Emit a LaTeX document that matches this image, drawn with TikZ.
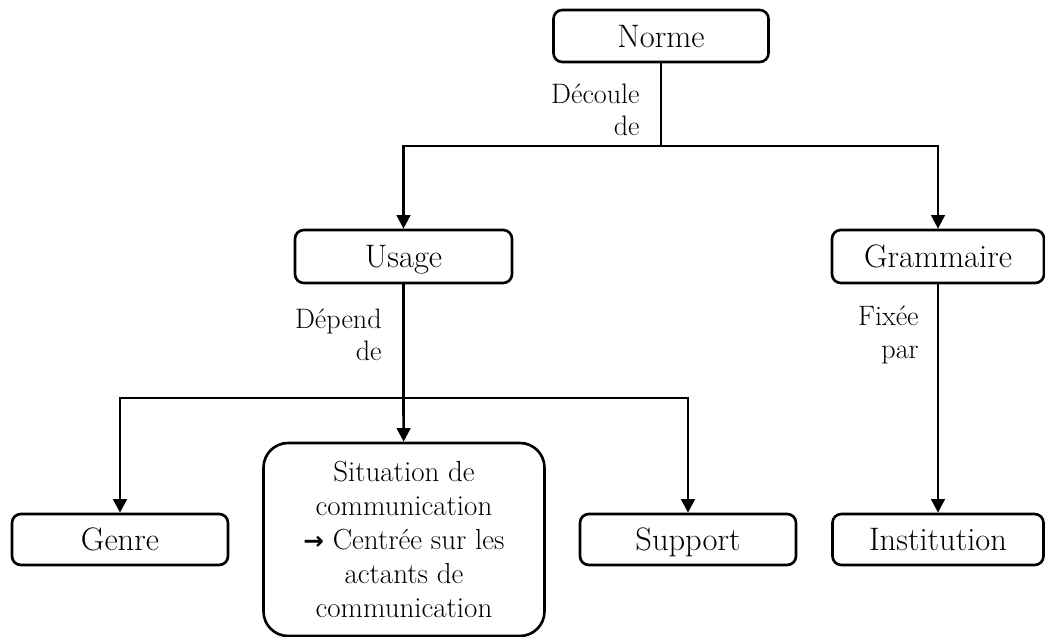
\documentclass[tikz,border=0pt]{standalone}
\usepackage{amsmath,amssymb}
\usepackage{xcolor}
\usepackage{fontspec}
\newfontfamily\symbolfont{DejaVu Sans}
\usetikzlibrary{arrows.meta,positioning,calc}
\definecolor{arrow}{RGB}{0,0,0}

\begin{document}
\begin{tikzpicture}[
  % Box and connector styles
  block/.style={
    draw=black,
    rounded corners=5pt,
    minimum width=4.3cm,
    minimum height=1.04cm,
    align=center,
    line width=1.5pt,
    font=\fontsize{18.5}{22}\selectfont
  },
  single/.style={
    text height=16pt,
    text depth=3.4pt
  },
  arr/.style={
    -{Triangle[width=0.27cm,length=0.27cm]},
    color=arrow,
    line width=1.5pt
  },
  link/.style={
    color=arrow,
    line width=1.5pt
  },
  annotation/.style={
    font=\fontsize{16}{18.5}\selectfont,
    align=right,
    inner sep=0pt,
    anchor=east
  }
]

% Frame
\useasboundingbox (0,0) rectangle (20.9,-12.74);

% Top
\node[block, single] (norme) at (13.22,-0.72) {Norme};

% Second level
\node[block, single, minimum width=4.34cm, minimum height=1.06cm] (usage) at (8.07,-5.13) {Usage};
\node[block, single, minimum width=4.24cm, minimum height=1.06cm] (grammaire) at (18.76,-5.13) {Grammaire};

% Third level
\node[block, single, minimum width=4.32cm, minimum height=1.02cm] (genre) at (2.40,-10.79) {Genre};
\node[block, minimum width=5.62cm, minimum height=3.86cm, rounded corners=14pt,
  font=\fontsize{16.5}{19.3}\selectfont] (situation) at (8.08,-10.79) {
  Situation de\\
  communication\\
  {\symbolfont\bfseries\fontsize{14}{19.3}\selectfont →} Centrée sur les\\
  actants de\\
  communication
};
\node[block, single, minimum width=4.32cm, minimum height=1.02cm] (support) at (13.76,-10.79) {Support};
\node[block, single, minimum width=4.22cm, minimum height=1.02cm] (institution) at (18.76,-10.79) {Institution};

% Branching points
\coordinate (split1) at (13.22,-2.92);
\coordinate (split2) at (8.07,-7.96);

% Arrows
\draw[link] (norme) -- (split1);
\draw[arr] (split1) -| (usage);
\draw[arr] (split1) -| (grammaire);
\draw[link] (usage) -- (split2);
\draw[arr] (split2) -| (genre);
\draw[arr] (split2) -- (situation);
\draw[arr] (split2) -| (support);
\draw[arr] (grammaire) -- (institution);

% Labels
\node[annotation] (decoule) at (12.8,-2.2) {Découle\\de};
\node[annotation] (depend) at (7.64,-6.7) {Dépend\\de};
\node[annotation] (fixee) at (18.38,-6.7) {Fixée\\par};

\end{tikzpicture}
\end{document}
